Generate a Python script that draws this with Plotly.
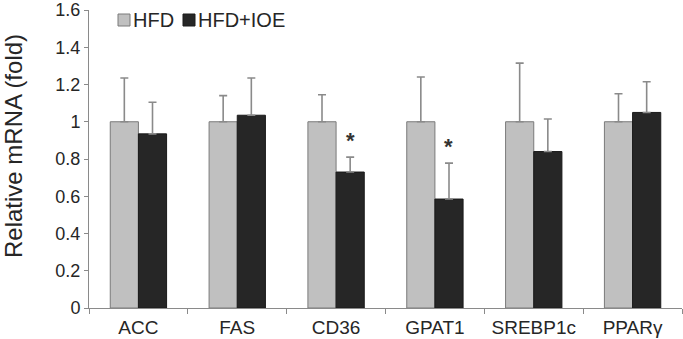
import plotly.graph_objects as go

categories = ["ACC", "FAS", "CD36", "GPAT1", "SREBP1c", "PPARγ"]
hfd = [1.0, 1.0, 1.0, 1.0, 1.0, 1.0]
hfd_err = [0.235, 0.14, 0.145, 0.24, 0.315, 0.15]
ioe = [0.935, 1.035, 0.73, 0.585, 0.84, 1.05]
ioe_err = [0.17, 0.20, 0.08, 0.193, 0.175, 0.165]
significant = [False, False, True, True, False, False]
y_ticks = [0, 0.2, 0.4, 0.6, 0.8, 1.0, 1.2, 1.4, 1.6]

FONT = "Liberation Sans, Arial, sans-serif"
ERR_COLOR = "#8a8a8a"
GRAY = "#c0c0c0"
BLACK = "#262626"

fig = go.Figure()
fig.add_trace(go.Bar(
    name="HFD", x=categories, y=hfd,
    marker=dict(color=GRAY, line=dict(color="#7a7a7a", width=1)),
    error_y=dict(type="data", symmetric=False, array=hfd_err, arrayminus=[0]*len(hfd),
                 color=ERR_COLOR, thickness=1.6, width=4),
    showlegend=False,
))
fig.add_trace(go.Bar(
    name="HFD+IOE", x=categories, y=ioe,
    marker=dict(color=BLACK, line=dict(color="#1a1a1a", width=1)),
    error_y=dict(type="data", symmetric=False, array=ioe_err, arrayminus=[0]*len(ioe),
                 color=ERR_COLOR, thickness=1.6, width=4),
    showlegend=False,
))

# significance stars above the HFD+IOE bars
for c, v, e, s in zip(categories, ioe, ioe_err, significant):
    if s:
        fig.add_annotation(x=c, y=v + e, xref="x", yref="y", text="<b>*</b>", showarrow=False,
                           xshift=14, yshift=17, font=dict(size=22, color="#333", family=FONT))

# custom legend (square swatch + text)
legend_items = [("HFD", GRAY, "#7a7a7a", 118), ("HFD+IOE", BLACK, "#1a1a1a", 183)]
for name, fc, lc, px in legend_items:
    fig.add_shape(type="rect", xref="paper", yref="paper",
                  x0=(px - 89) / 593, x1=(px + 12 - 89) / 593,
                  y0=(308 - 26) / 298, y1=(308 - 14) / 298,
                  fillcolor=fc, line=dict(color=lc, width=1))
    fig.add_annotation(xref="paper", yref="paper", x=(px + 13 - 89) / 593, y=(308 - 20) / 298,
                       text=name, showarrow=False, xanchor="left", yanchor="middle",
                       font=dict(size=20, color="#262626", family=FONT))

# y-axis title
fig.add_annotation(xref="paper", yref="paper", x=(13 - 89) / 593, y=(308 - 146) / 298,
                   text="Relative mRNA (fold)", textangle=-90, showarrow=False,
                   xanchor="center", yanchor="middle",
                   font=dict(size=24, color="#262626", family=FONT))

fig.update_layout(
    width=683, height=339,
    margin=dict(l=89, r=1, t=10, b=31),
    paper_bgcolor="white", plot_bgcolor="white",
    barmode="group", bargap=0.43, bargroupgap=0,
    font=dict(family=FONT, color="#262626"),
)
fig.update_xaxes(
    showline=True, linecolor="#8a8a8a", linewidth=1,
    ticks="outside", tickson="boundaries", ticklen=5, tickcolor="#8a8a8a",
    tickfont=dict(size=19), showgrid=False, ticklabelstandoff=2, automargin=False,
)
fig.update_yaxes(
    range=[0, 1.6], tickvals=y_ticks, ticktext=[f"{v:g}" for v in y_ticks],
    showline=True, linecolor="#8a8a8a", linewidth=1,
    ticks="outside", ticklen=4, tickcolor="#8a8a8a",
    tickfont=dict(size=18), showgrid=False, zeroline=False, automargin=False,
)

fig.write_html("out.html")
